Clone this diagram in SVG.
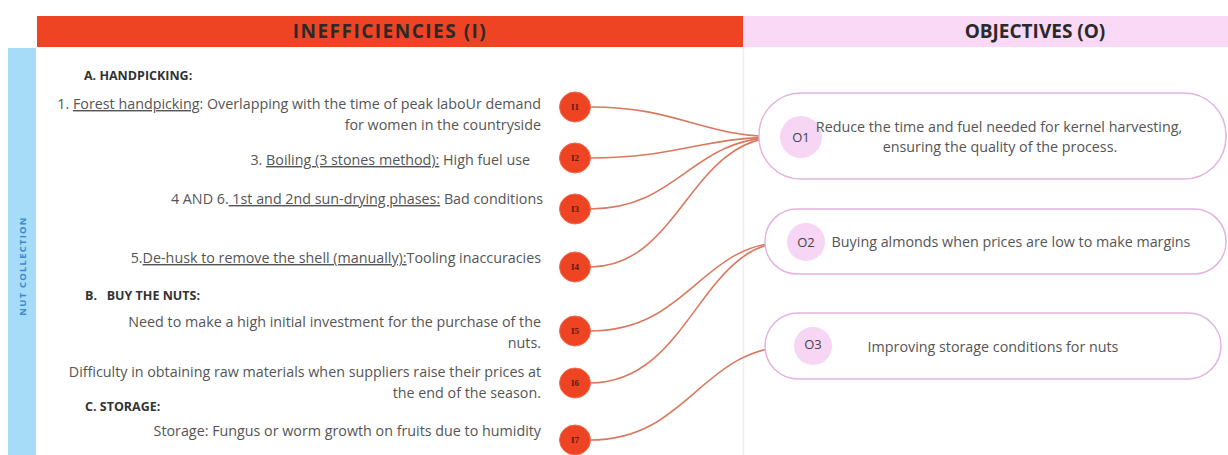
<svg xmlns="http://www.w3.org/2000/svg" width="1228" height="455" viewBox="0 0 1228 455">
<style>
.body{font-family:"Open Sans","Noto Sans",sans-serif;font-size:14.3px;fill:#555}
.sec{font-family:"Open Sans","Noto Sans",sans-serif;font-size:12.5px;font-weight:bold;fill:#333}
.hdr{font-family:"Open Sans","Noto Sans",sans-serif;font-size:19px;font-weight:bold;fill:#2a2a2a}
.inode{fill:#ee4423;stroke:#f06a4e;stroke-width:1}
.ilbl{font-family:"Liberation Serif",serif;font-size:9px;font-weight:bold;fill:#5a1a10;text-anchor:middle}
.obox{fill:#fff;stroke:#e2b3e0;stroke-width:1.5}
.ocirc{fill:#f7d5f4}
.olbl{font-family:"Open Sans","Noto Sans",sans-serif;font-size:13px;fill:#444;text-anchor:middle}
.otxt{font-family:"Open Sans","Noto Sans",sans-serif;font-size:14.3px;fill:#555;text-anchor:middle}
.conn{fill:none;stroke:#d8795f;stroke-width:1.6}
.u{text-decoration:underline}
</style>
<rect width="1228" height="455" fill="#fff"/>
<g id="headers">
<rect x="37" y="16" width="706" height="31" fill="#ee4423"/>
<rect x="743" y="16" width="485" height="31" fill="#f9d9f6"/>
<text class="hdr" x="390" y="38" text-anchor="middle" letter-spacing="1.5">INEFFICIENCIES (I)</text>
<text class="hdr" x="1035" y="38" text-anchor="middle">OBJECTIVES (O)</text>
<line x1="743.5" y1="47" x2="743.5" y2="455" stroke="#eeeeee" stroke-width="1.5"/>
</g>
<g id="sidebar">
<rect x="8" y="48" width="28" height="407" fill="#a6dcf8"/>
<text x="25.5" y="266" transform="rotate(-90 25.5 266)" text-anchor="middle" font-family="'Open Sans','Noto Sans',sans-serif" font-size="9.5" font-weight="bold" fill="#3a8ad0" letter-spacing="1.2">NUT COLLECTION</text>
</g>
<g id="inefficiency-texts">
<text class="sec" x="84" y="80">A. HANDPICKING:</text>
<text class="body" x="541" y="109" text-anchor="end">1. <tspan class="u">Forest handpicking</tspan>: Overlapping with the time of peak laboUr demand</text>
<text class="body" x="541" y="130" text-anchor="end">for women in the countryside</text>
<text class="body" x="530" y="165" text-anchor="end">3. <tspan class="u">Boiling (3 stones method):</tspan> High fuel use</text>
<text class="body" x="543" y="204" text-anchor="end">4 AND 6.<tspan class="u"> 1st and 2nd sun-drying phases:</tspan> Bad conditions</text>
<text class="body" x="541" y="263" text-anchor="end">5.<tspan class="u">De-husk to remove the shell (manually):</tspan>Tooling inaccuracies</text>
<text class="sec" x="85" y="300" xml:space="preserve">B.   BUY THE NUTS:</text>
<text class="body" x="541" y="327" text-anchor="end">Need to make a high initial investment for the purchase of the</text>
<text class="body" x="541" y="348" text-anchor="end">nuts.</text>
<text class="body" x="541" y="377" text-anchor="end">Difficulty in obtaining raw materials when suppliers raise their prices at</text>
<text class="body" x="541" y="398" text-anchor="end">the end of the season.</text>
<text class="sec" x="85" y="411">C. STORAGE:</text>
<text class="body" x="541" y="436" text-anchor="end">Storage: Fungus or worm growth on fruits due to humidity</text>
</g>
<g id="connectors">
<path class="conn" d="M590,107 C680,107 700,137 781,137"/>
<path class="conn" d="M590,158 C680,158 700,137 781,137"/>
<path class="conn" d="M590,209 C680,209 690,137 781,137"/>
<path class="conn" d="M590,267 C680,267 690,137 781,137"/>
<path class="conn" d="M590,331 C690,331 700,242 788,242"/>
<path class="conn" d="M590,383 C690,383 700,242 788,242"/>
<path class="conn" d="M590,440 C690,440 700,346 795,346"/>
</g>
<g id="I1"><ellipse class="inode" cx="575" cy="107" rx="15.5" ry="15"/><text class="ilbl" x="575" y="110">I1</text></g>
<g id="I2"><ellipse class="inode" cx="575" cy="158" rx="15.5" ry="15"/><text class="ilbl" x="575" y="161">I2</text></g>
<g id="I3"><ellipse class="inode" cx="575" cy="209" rx="15.5" ry="15"/><text class="ilbl" x="575" y="212">I3</text></g>
<g id="I4"><ellipse class="inode" cx="575" cy="267" rx="15.5" ry="15"/><text class="ilbl" x="575" y="270">I4</text></g>
<g id="I5"><ellipse class="inode" cx="575" cy="331" rx="15.5" ry="15"/><text class="ilbl" x="575" y="334">I5</text></g>
<g id="I6"><ellipse class="inode" cx="575" cy="383" rx="15.5" ry="15"/><text class="ilbl" x="575" y="386">I6</text></g>
<g id="I7"><ellipse class="inode" cx="575" cy="440" rx="15.5" ry="15"/><text class="ilbl" x="575" y="443">I7</text></g>
<g id="O1">
<rect class="obox" x="759" y="93" width="467" height="86" rx="42"/>
<circle class="ocirc" cx="801" cy="137" r="21"/>
<text class="olbl" x="801" y="141.5">O1</text>
<text class="otxt" x="999" y="132">Reduce the time and fuel needed for kernel harvesting,</text>
<text class="otxt" x="1000" y="152">ensuring the quality of the process.</text>
</g>
<g id="O2">
<rect class="obox" x="765" y="209" width="461" height="65" rx="32"/>
<circle class="ocirc" cx="806" cy="242" r="19"/>
<text class="olbl" x="806" y="246.5">O2</text>
<text class="otxt" x="1011" y="247">Buying almonds when prices are low to make margins</text>
</g>
<g id="O3">
<rect class="obox" x="765" y="313" width="456" height="66" rx="33"/>
<circle class="ocirc" cx="813" cy="346" r="19"/>
<text class="olbl" x="813" y="349" font-size="8" fill="#777">O3</text>
<text class="otxt" x="993" y="352">Improving storage conditions for nuts</text>
</g>
</svg>
